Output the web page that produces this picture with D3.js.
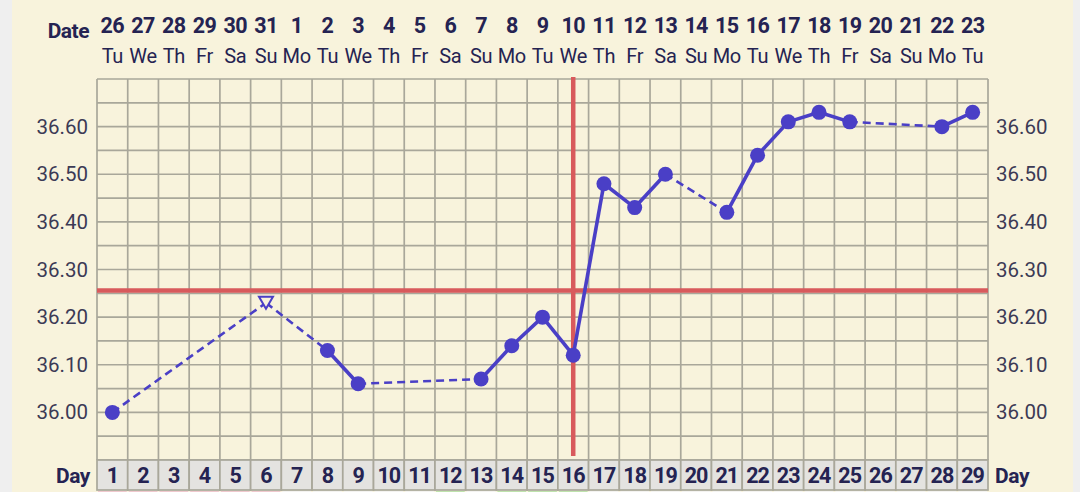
<!DOCTYPE html>
<html>
<head>
<meta charset="utf-8">
<script src="https://cdn.jsdelivr.net/npm/d3@7"></script>
<style>
  html, body { margin: 0; padding: 0; background: #efefef; }
  svg { display: block; font-family: Roboto, "Noto Sans", sans-serif; }
</style>
</head>
<body>
<svg id="chart" width="1080" height="492"></svg>
<script>
// Chart data
const cycleDays = d3.range(1, 30);
const dateLabels = ['26','27','28','29','30','31','1','2','3','4','5','6','7','8','9','10','11','12','13','14','15','16','17','18','19','20','21','22','23'];
const weekdays = ['Tu','We','Th','Fr','Sa','Su','Mo','Tu','We','Th','Fr','Sa','Su','Mo','Tu','We','Th','Fr','Sa','Su','Mo','Tu','We','Th','Fr','Sa','Su','Mo','Tu'];
const tempDays = [1, 8, 9, 13, 14, 15, 16, 17, 18, 19, 21, 22, 23, 24, 25, 28, 29];
const temps = [36.00, 36.13, 36.06, 36.07, 36.14, 36.20, 36.12, 36.48, 36.43, 36.50, 36.42, 36.54, 36.61, 36.63, 36.61, 36.60, 36.63];
const excludedDay = 6;
const excludedTemp = 36.23;
const yTicks = [36.00, 36.10, 36.20, 36.30, 36.40, 36.50, 36.60];
const coverline = 36.256;
const ovulationDay = 16;
// bottom strip markers: p = pink, g = green, w = plain
const stripCodes = 'ppppppwwwwwgwgggwwwwwwwwwwwww'.split('');

const svg = d3.select('#chart');
const W = 1080, H = 492;

const colorBg = '#f8f3dc';
const colorGrid = '#a9a79a';
const colorText = '#252352';
const colorLine = '#4a3fc6';
const colorRed = '#d85a5c';

const x = d3.scaleLinear().domain([0.5, 29.5]).range([97, 988]);
const y = d3.scaleLinear().domain([35.9, 36.7]).range([460, 79]);

// background
svg.append('rect').attr('x', 0).attr('y', 0).attr('width', W).attr('height', H).attr('fill', '#efefef');
svg.append('rect').attr('x', 12).attr('y', 0).attr('width', 1061).attr('height', H).attr('fill', colorBg);

// grid
const grid = svg.append('g').attr('stroke', colorGrid).attr('stroke-width', 1.7);
d3.range(0.5, 30, 1).forEach(d => {
  grid.append('line').attr('x1', x(d)).attr('x2', x(d)).attr('y1', y(36.7)).attr('y2', y(35.9));
});
d3.range(35.9, 36.71, 0.05).forEach(t => {
  grid.append('line').attr('x1', x(0.5)).attr('x2', x(29.5)).attr('y1', y(t)).attr('y2', y(t));
});

// y axis labels, both sides
const yLeft = d3.axisLeft(y).tickValues(yTicks).tickFormat(d3.format('.2f')).tickSize(0).tickPadding(9);
const yRight = d3.axisRight(y).tickValues(yTicks).tickFormat(d3.format('.2f')).tickSize(0).tickPadding(8);
[[yLeft, x(0.5)], [yRight, x(29.5)]].forEach(([ax, pos]) => {
  const g = svg.append('g').attr('transform', `translate(${pos},0)`).call(ax);
  g.select('.domain').remove();
  g.selectAll('text').attr('font-size', 20.5).attr('fill', '#3c3a55')
    .attr('font-family', 'Roboto, sans-serif');
});

// header
svg.append('text').attr('x', 89).attr('y', 38).attr('text-anchor', 'end')
  .attr('font-size', 21).attr('font-weight', 700).attr('fill', colorText)
  .attr('letter-spacing', -0.5).text('Date');
svg.append('g').selectAll('text').data(cycleDays).join('text')
  .attr('x', d => x(d)).attr('y', 33).attr('text-anchor', 'middle')
  .attr('font-size', 21.5).attr('font-weight', 700).attr('fill', colorText)
  .attr('letter-spacing', -0.6)
  .text((d, i) => dateLabels[i]);
svg.append('g').selectAll('text').data(cycleDays).join('text')
  .attr('x', d => x(d)).attr('y', 63).attr('text-anchor', 'middle')
  .attr('font-size', 20).attr('fill', colorText)
  .attr('letter-spacing', -0.3)
  .text((d, i) => weekdays[i]);

// day row
const dayRow = svg.append('g');
dayRow.selectAll('rect').data(cycleDays).join('rect')
  .attr('x', d => x(d - 0.5)).attr('y', 460).attr('width', x(1.5) - x(0.5)).attr('height', 30)
  .attr('fill', '#e4e3e0').attr('stroke', colorGrid).attr('stroke-width', 1.7);
dayRow.selectAll('text').data(cycleDays).join('text')
  .attr('x', d => x(d)).attr('y', 483).attr('text-anchor', 'middle')
  .attr('font-size', 21.5).attr('font-weight', 700).attr('fill', colorText)
  .attr('letter-spacing', -0.9)
  .text(d => d);
svg.append('text').attr('x', 90).attr('y', 483).attr('text-anchor', 'end')
  .attr('font-size', 21).attr('font-weight', 700).attr('fill', colorText)
  .attr('letter-spacing', -0.4).text('Day');
svg.append('text').attr('x', 995).attr('y', 483)
  .attr('font-size', 21).attr('font-weight', 700).attr('fill', colorText)
  .attr('letter-spacing', -0.4).text('Day');

// bottom strip
const stripColor = {p: '#f0c9ce', g: '#bfe3ad', w: '#f4f3f1'};
svg.append('g').selectAll('rect').data(cycleDays).join('rect')
  .attr('x', d => x(d - 0.5) + 1).attr('y', 491).attr('width', x(1.5) - x(0.5) - 2).attr('height', 4)
  .attr('fill', (d, i) => stripColor[stripCodes[i]]);

// coverline and ovulation line
svg.append('line').attr('x1', x(0.5)).attr('x2', x(29.5)).attr('y1', y(coverline)).attr('y2', y(coverline))
  .attr('stroke', colorRed).attr('stroke-width', 4.5);
svg.append('line').attr('x1', x(ovulationDay)).attr('x2', x(ovulationDay)).attr('y1', y(36.7) - 2).attr('y2', 456)
  .attr('stroke', colorRed).attr('stroke-width', 4.5);

// temperature line: solid between consecutive days, dashed across gaps
const pts = tempDays.map((d, i) => ({day: d, temp: temps[i]}));
const allPts = pts.concat([{day: excludedDay, temp: excludedTemp, excluded: true}])
  .sort((a, b) => a.day - b.day);
const lines = svg.append('g');
for (let i = 0; i < allPts.length - 1; i++) {
  const a = allPts[i], b = allPts[i + 1];
  const dashed = (b.day - a.day > 1) || a.excluded || b.excluded;
  lines.append('line')
    .attr('x1', x(a.day)).attr('y1', y(a.temp)).attr('x2', x(b.day)).attr('y2', y(b.temp))
    .attr('stroke', colorLine)
    .attr('stroke-width', dashed ? 2.6 : 3.6)
    .attr('stroke-dasharray', dashed ? '8,5' : null);
}

svg.append('g').selectAll('circle').data(pts).join('circle')
  .attr('cx', d => x(d.day)).attr('cy', d => y(d.temp)).attr('r', 7.5)
  .attr('fill', colorLine);

// excluded temperature marker
const tx = x(excludedDay), ty = y(excludedTemp);
svg.append('path')
  .attr('d', `M${tx - 7},${ty - 6} L${tx + 7},${ty - 6} L${tx},${ty + 6} Z`)
  .attr('fill', colorBg).attr('stroke', colorLine).attr('stroke-width', 2);
</script>
</body>
</html>
